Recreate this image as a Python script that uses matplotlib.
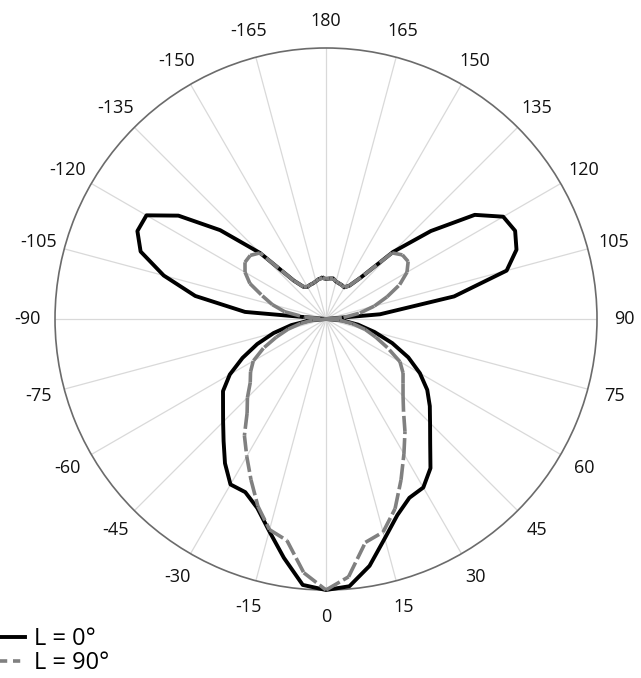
import numpy as np
import matplotlib.pyplot as plt
from matplotlib.lines import Line2D

# angle grid of the measurement, degrees (-175 .. 180)
angles_deg = np.arange(-175, 185, 5)

# normalised radius, L = 0 deg
r_l0 = [0.152, 0.150, 0.144, 0.140, 0.139, 0.137, 0.145, 0.185,   # -175 .. -140
        0.345, 0.510, 0.665, 0.765, 0.768, 0.728, 0.620, 0.490,   # -135 .. -100
        0.300, 0.000, 0.060, 0.130, 0.200, 0.270, 0.340, 0.410,   # -95 .. -60
        0.464, 0.496, 0.537, 0.588, 0.650, 0.705, 0.705, 0.742,   # -55 .. -20
        0.810, 0.895, 0.985, 1.000, 0.990, 0.925, 0.838, 0.770,   # -15 .. 20
        0.728, 0.718, 0.672, 0.598, 0.543, 0.500, 0.456, 0.400,   # 25 .. 60
        0.335, 0.260, 0.185, 0.120, 0.060, 0.000, 0.200, 0.480,   # 65 .. 100
        0.690, 0.748, 0.770, 0.755, 0.670, 0.505, 0.350, 0.200,   # 105 .. 140
        0.150, 0.135, 0.138, 0.140, 0.143, 0.152, 0.150, 0.148]   # 145 .. 180

# normalised radius, L = 90 deg
r_l90 = [0.152, 0.150, 0.144, 0.140, 0.139, 0.137, 0.145, 0.185,  # -175 .. -140
         0.345, 0.365, 0.365, 0.345, 0.310, 0.250, 0.205, 0.155,  # -135 .. -100
         0.080, 0.000, 0.050, 0.095, 0.145, 0.195, 0.255, 0.310,  # -95 .. -60
         0.340, 0.365, 0.410, 0.453, 0.525, 0.585, 0.655, 0.735,  # -55 .. -20
         0.805, 0.830, 0.940, 1.000, 0.955, 0.837, 0.814, 0.745,  # -15 .. 20
         0.655, 0.575, 0.508, 0.445, 0.402, 0.371, 0.347, 0.315,  # 25 .. 60
         0.250, 0.195, 0.150, 0.100, 0.050, 0.000, 0.065, 0.127,  # 65 .. 100
         0.185, 0.240, 0.300, 0.345, 0.370, 0.368, 0.345, 0.200,  # 105 .. 140
         0.150, 0.135, 0.138, 0.140, 0.143, 0.152, 0.150, 0.148]  # 145 .. 180

tick_angles = np.arange(0, 360, 15)
tick_labels = [str(a) if a <= 180 else str(a - 360) for a in tick_angles]

series_names = ['L = 0°', 'L = 90°']

plt.rcParams['font.family'] = ['Open Sans', 'DejaVu Sans']

fig = plt.figure(figsize=(6.41, 6.78), dpi=100)
ax = fig.add_axes([0.0858, 0.1298, 0.8456, 0.7994], projection='polar')
ax.set_theta_zero_location('S')
ax.set_theta_direction(1)
ax.set_ylim(0, 1)
ax.set_yticks([])
ax.set_xticks(np.deg2rad(tick_angles))
ax.set_xticklabels([])
ax.grid(True, axis='x', color='#d9d9d9', lw=0.9)
ax.spines['polar'].set_color('#6b6b6b')
ax.spines['polar'].set_linewidth(1.2)
ax.tick_params(axis='x', direction='out', length=4, width=1, color='#6b6b6b')

for a, lab in zip(tick_angles, tick_labels):
    ax.text(np.deg2rad(a), 1.1, lab, ha='center', va='center',
            fontsize=13, color='#111111')

th = np.deg2rad(np.append(angles_deg, angles_deg[0]))
r0 = np.append(r_l0, r_l0[0])
r90 = np.append(r_l90, r_l90[0])

ax.plot(th, r0, color='black', lw=2.8, solid_joinstyle='round',
        clip_on=False, zorder=3)

# dash pattern restarts on every segment, like the spreadsheet export:
# short segments come out solid, long ones show gaps
for i in range(len(th) - 1):
    ax.plot(th[i:i + 2], r90[i:i + 2], color='#808080', lw=2.6,
            linestyle=(0, (4.4, 1.1)), dash_capstyle='butt',
            solid_capstyle='round', clip_on=False, zorder=4)

h0 = Line2D([], [], color='black', lw=2.8)
h1 = Line2D([], [], color='#808080', lw=2.6, linestyle=(0, (2.0, 1.6)))
fig.legend(handles=[h0, h1], labels=series_names, loc='lower left',
           bbox_to_anchor=(0.0, 0.004), frameon=False, fontsize=17,
           handlelength=1.05, handletextpad=0.4, labelspacing=0.0,
           borderaxespad=0, borderpad=0)

fig.savefig('out.png', dpi=100)
